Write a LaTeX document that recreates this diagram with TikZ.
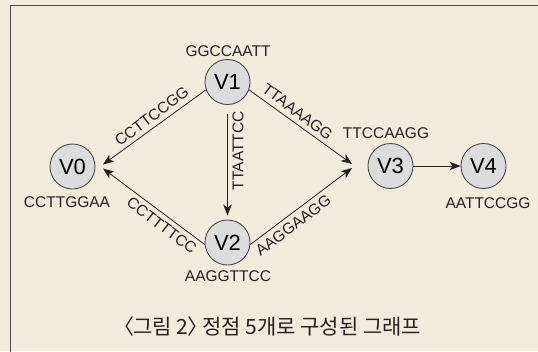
\documentclass[tikz,border=0pt]{standalone}
\usepackage{fontspec}
\setmainfont{Liberation Sans}
\newfontfamily\krfont{Noto Sans CJK KR}
\usetikzlibrary{arrows.meta}
\definecolor{bg}{HTML}{F0ECDC}
\definecolor{vfill}{HTML}{DCDCDC}
\definecolor{ink}{HTML}{222222}
\definecolor{framec}{HTML}{4A4A4A}
\begin{document}
\begin{tikzpicture}[x=1pt,y=-1pt,
  vert/.style={circle,draw=framec,line width=0.9pt,fill=vfill,minimum size=45pt,inner sep=0pt,font=\fontsize{22}{22}\selectfont,text=black},
  seq/.style={font=\fontsize{15.5}{15.5}\selectfont,text=ink,inner sep=0pt},
  elab/.style={seq,outer sep=5pt},
  arr/.style={draw=ink,line width=0.8pt,-{Stealth[length=11pt,width=8.5pt,inset=3pt]}}
]
\fill[bg] (0,0) rectangle (538,351);
\useasboundingbox (0,0) rectangle (538,351);
\begin{scope}
\clip (0,0) rectangle (538,351);
\draw[framec,line width=1.4pt] (10.5,400) -- (10.5,5.5) -- (600,5.5);
\end{scope}

\node[vert] (V0) at (72.5,166.5) {V0};
\node[vert] (V1) at (227.5,82) {V1};
\node[vert] (V2) at (227.5,242.5) {V2};
\node[vert] (V3) at (390.5,166) {V3};
\node[vert] (V4) at (483.5,166) {V4};

\coordinate (t0a) at (103,164.5);
\coordinate (t0b) at (103,168.5);
\coordinate (t3a) at (352,164);
\coordinate (t3b) at (352,168);

\node[seq] (l1) at (228,51) {GGCCAATT};
\node[seq] (l0) at (67,202) {CCTTGGAA};
\node[seq] (l2) at (228,276) {AAGGTTCC};
\node[seq] (l3) at (386,133) {TTCCAAGG};
\node[seq] (l4) at (488,203) {AATTCCGG};

\draw[arr] (V1.200) -- (t0a) node[elab,pos=0.465,rotate=37,anchor=south] (e10) {CCTTCCGG};
\draw[arr] (V1.340) -- (t3a) node[elab,pos=0.41,rotate=-37,anchor=south] (e13) {TTAAAAGG};
\draw[arr] (V2.185) -- (t0b) node[elab,pos=0.36,rotate=-37,anchor=north] (e20) {CCTTTTCC};
\draw[arr] (V2.355) -- (t3b) node[elab,pos=0.36,rotate=37,anchor=north] (e23) {AAGGAAGG};
\draw[arr,shorten <=9pt,shorten >=4pt] (V1) -- (V2) node[elab,pos=0.40,rotate=90,anchor=north] (e12) {TTAATTCC};
\draw[arr] (V3) -- (V4);

\node[font=\krfont\fontsize{21}{21}\selectfont,text=ink] (cap) at (272.5,327) {\kern-0.5em〈\kern-0.05em 그림 2\kern-0.05em〉\kern-0.5em\ 정점 5개로 구성된 그래프};
\end{tikzpicture}
\end{document}
